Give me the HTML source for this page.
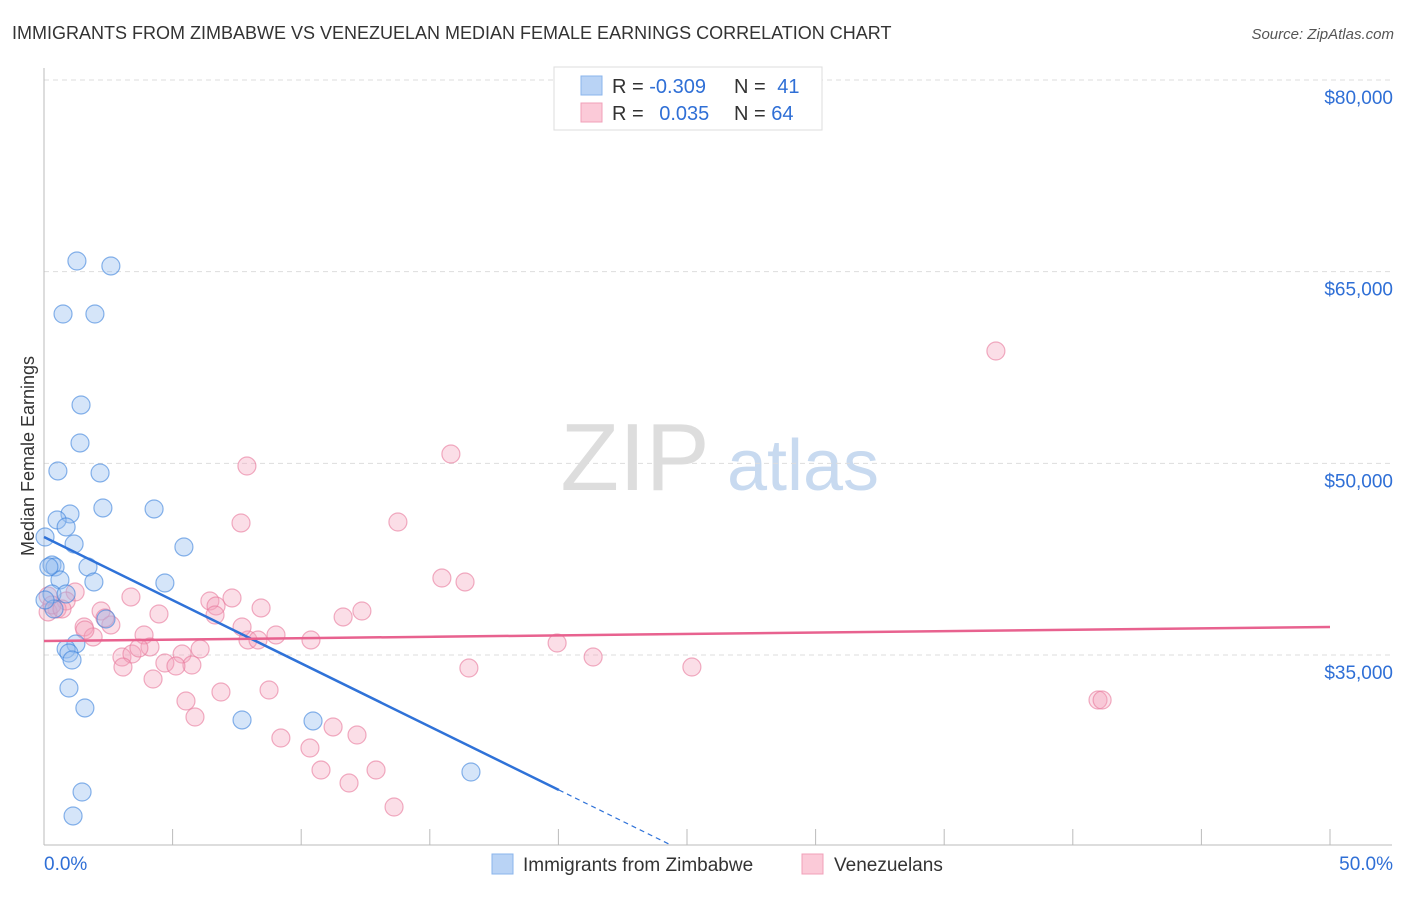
<!DOCTYPE html>
<html><head><meta charset="utf-8"><style>
body{margin:0;background:#fff;font-family:"Liberation Sans",sans-serif;}
svg text{font-family:"Liberation Sans",sans-serif;}
</style></head><body>
<svg id="chart" width="1406" height="892" xmlns="http://www.w3.org/2000/svg">
<text x="12" y="39" font-size="18" fill="#333">IMMIGRANTS FROM ZIMBABWE VS VENEZUELAN MEDIAN FEMALE EARNINGS CORRELATION CHART</text>
<text x="1394" y="39" font-size="15" fill="#555" font-style="italic" text-anchor="end">Source: ZipAtlas.com</text>
<g>
<text x="635" y="490" font-size="96" fill="#ddd" font-family="Liberation Serif" text-anchor="middle">ZIP</text>
<text x="803" y="490" font-size="72" fill="#c8daf0" text-anchor="middle">atlas</text>
</g>
<g id="grid"></g>
<g id="axes"></g>
<g id="marks"></g>
<text transform="translate(34,456) rotate(-90)" font-size="18" fill="#333" text-anchor="middle">Median Female Earnings</text>
<g>
<rect x="554" y="67" width="268" height="63" fill="#fff" stroke="#ddd"/>
<rect x="581" y="76" width="21" height="19" fill="#b9d3f5" stroke="#8ab4ec"/>
<rect x="581" y="103" width="21" height="19" fill="#fbcad8" stroke="#f0a0b9"/>
<text x="612" y="93" font-size="20" fill="#333">R = <tspan fill="#2f6fd6">-0.309</tspan></text>
<text x="734" y="93" font-size="20" fill="#333">N = <tspan fill="#2f6fd6" dx="6">41</tspan></text>
<text x="612" y="120" font-size="20" fill="#333">R = <tspan fill="#2f6fd6" dx="10">0.035</tspan></text>
<text x="734" y="120" font-size="20" fill="#333">N = <tspan fill="#2f6fd6">64</tspan></text>
</g>
<g>
<rect x="492" y="854" width="21" height="20" fill="#b9d3f5" stroke="#8ab4ec"/>
<text x="523" y="871" font-size="19" fill="#333">Immigrants from Zimbabwe</text>
<rect x="802" y="854" width="21" height="20" fill="#fbcad8" stroke="#f0a0b9"/>
<text x="834" y="871" font-size="19" fill="#333">Venezuelans</text>
</g>
</svg>
<script>
const yTicks=[35000,50000,65000,80000];
const yTickLabels=["$35,000","$50,000","$65,000","$80,000"];
const xTicks=[0,5,10,15,20,25,30,35,40,45,50];
const xEndLabels=["0.0%","50.0%"];
const blueX=[1.28,2.60,0.74,1.98,1.44,1.40,0.54,2.18,2.29,4.28,1.01,0.51,0.86,0.04,1.17,5.44,0.31,0.43,1.71,0.62,1.94,4.70,0.31,0.86,0.39,2.41,1.24,0.86,0.97,1.09,0.97,1.59,7.70,10.46,16.60,1.48,1.13,0.19,0.04];
const blueY=[65835,65444,61687,61687,54566,51592,49401,49244,46505,46427,46036,45566,45018,44235,43687,43453,42044,41888,41888,40870,40714,40636,39775,39775,38601,37819,35862,35470,35157,34609,32418,30853,29914,29836,25844,24279,22401,41888,39305];
const pinkX=[37.01,15.82,7.89,13.76,7.66,15.47,16.37,40.98,41.14,19.95,21.35,25.19,16.52,3.38,4.47,6.45,7.31,6.69,8.44,11.63,12.36,2.22,1.21,0.86,0.51,0.16,1.56,2.60,1.91,3.89,6.07,7.93,9.02,10.38,4.12,3.03,3.42,3.69,5.37,5.75,4.70,5.13,4.24,3.07,6.88,8.75,5.52,5.87,9.21,10.34,11.24,12.17,10.77,12.91,11.86,13.61,0.16,0.31,0.70,6.65,7.70,8.32,2.37,1.59];
const pinkY=[58791,50730,49791,45409,45331,41026,40714,31478,31478,35938,34843,34060,33982,39540,38210,39227,39462,38836,38679,37975,38444,38444,39931,39227,38601,38366,37192,37349,36410,36566,35470,36175,36566,36175,35627,34843,35078,35548,35078,34217,34373,34139,33122,34060,32104,32261,31400,30148,28504,27722,29366,28739,25999,25999,24983,23105,39618,38914,38601,38131,37192,36175,37897,36957];
const blueTrend=[44235,-989];
const pinkTrend=[36097,21.9];
const NS="http://www.w3.org/2000/svg";
const X0=44,X1=1330,YB=845;
function sx(v){return X0+(X1-X0)*v/50;}
function sy(v){return 80+(80000-v)/78.26;}
function mk(tag,attrs,parent){const e=document.createElementNS(NS,tag);for(const k in attrs)e.setAttribute(k,attrs[k]);document.getElementById(parent).appendChild(e);return e;}
yTicks.forEach((t,i)=>{
 const l=mk('line',{x1:X0,x2:1392,y1:sy(t),y2:sy(t),stroke:'#ddd','stroke-dasharray':'5,4'},'grid');
 
 
 const tx=mk('text',{x:1393,y:sy(t)+24,'font-size':19,fill:'#2f6fd6','text-anchor':'end'},'axes');
 tx.textContent=yTickLabels[i];
 
 
});
const ya=mk('line',{x1:X0,x2:X0,y1:68,y2:YB,stroke:'#bbb'},'axes');


const xa=mk('line',{x1:X0,x2:1392,y1:YB,y2:YB,stroke:'#bbb'},'axes');


xTicks.forEach(t=>{
 const l=mk('line',{x1:sx(t),x2:sx(t),y1:829,y2:YB,stroke:'#bbb'},'axes');
 
 
});
const xl0=mk('text',{x:44,y:870,'font-size':19,fill:'#2f6fd6'},'axes');xl0.textContent=xEndLabels[0];


const xl1=mk('text',{x:1393,y:870,'font-size':19,fill:'#2f6fd6','text-anchor':'end'},'axes');xl1.textContent=xEndLabels[1];


pinkX.forEach((x,i)=>{
 const c=mk('circle',{cx:sx(x),cy:sy(pinkY[i]),r:9,fill:'rgba(244,160,185,0.35)',stroke:'rgba(232,120,155,0.6)','stroke-width':1.2},'marks');
 
 
});
blueX.forEach((x,i)=>{
 const c=mk('circle',{cx:sx(x),cy:sy(blueY[i]),r:9,fill:'rgba(150,190,240,0.4)',stroke:'rgba(60,130,220,0.6)','stroke-width':1.2},'marks');
 
 
});
const bEnd=20.02;
const bl=mk('line',{x1:sx(0),y1:sy(blueTrend[0]),x2:sx(bEnd),y2:sy(blueTrend[0]+blueTrend[1]*bEnd),stroke:'#2f72d8','stroke-width':2.5},'marks');


const xz=(sy.inv=(py)=>80000-(py-80)*78.26, (sy.inv(YB)-blueTrend[0])/blueTrend[1]);
const bd=mk('line',{x1:sx(bEnd),y1:sy(blueTrend[0]+blueTrend[1]*bEnd),x2:sx(xz),y2:YB,stroke:'#2f72d8','stroke-width':1.2,'stroke-dasharray':'5,4'},'marks');


const pl=mk('line',{x1:sx(0),y1:sy(pinkTrend[0]),x2:sx(50),y2:sy(pinkTrend[0]+pinkTrend[1]*50),stroke:'#e8628f','stroke-width':2.5},'marks');


</script>
</body></html>
